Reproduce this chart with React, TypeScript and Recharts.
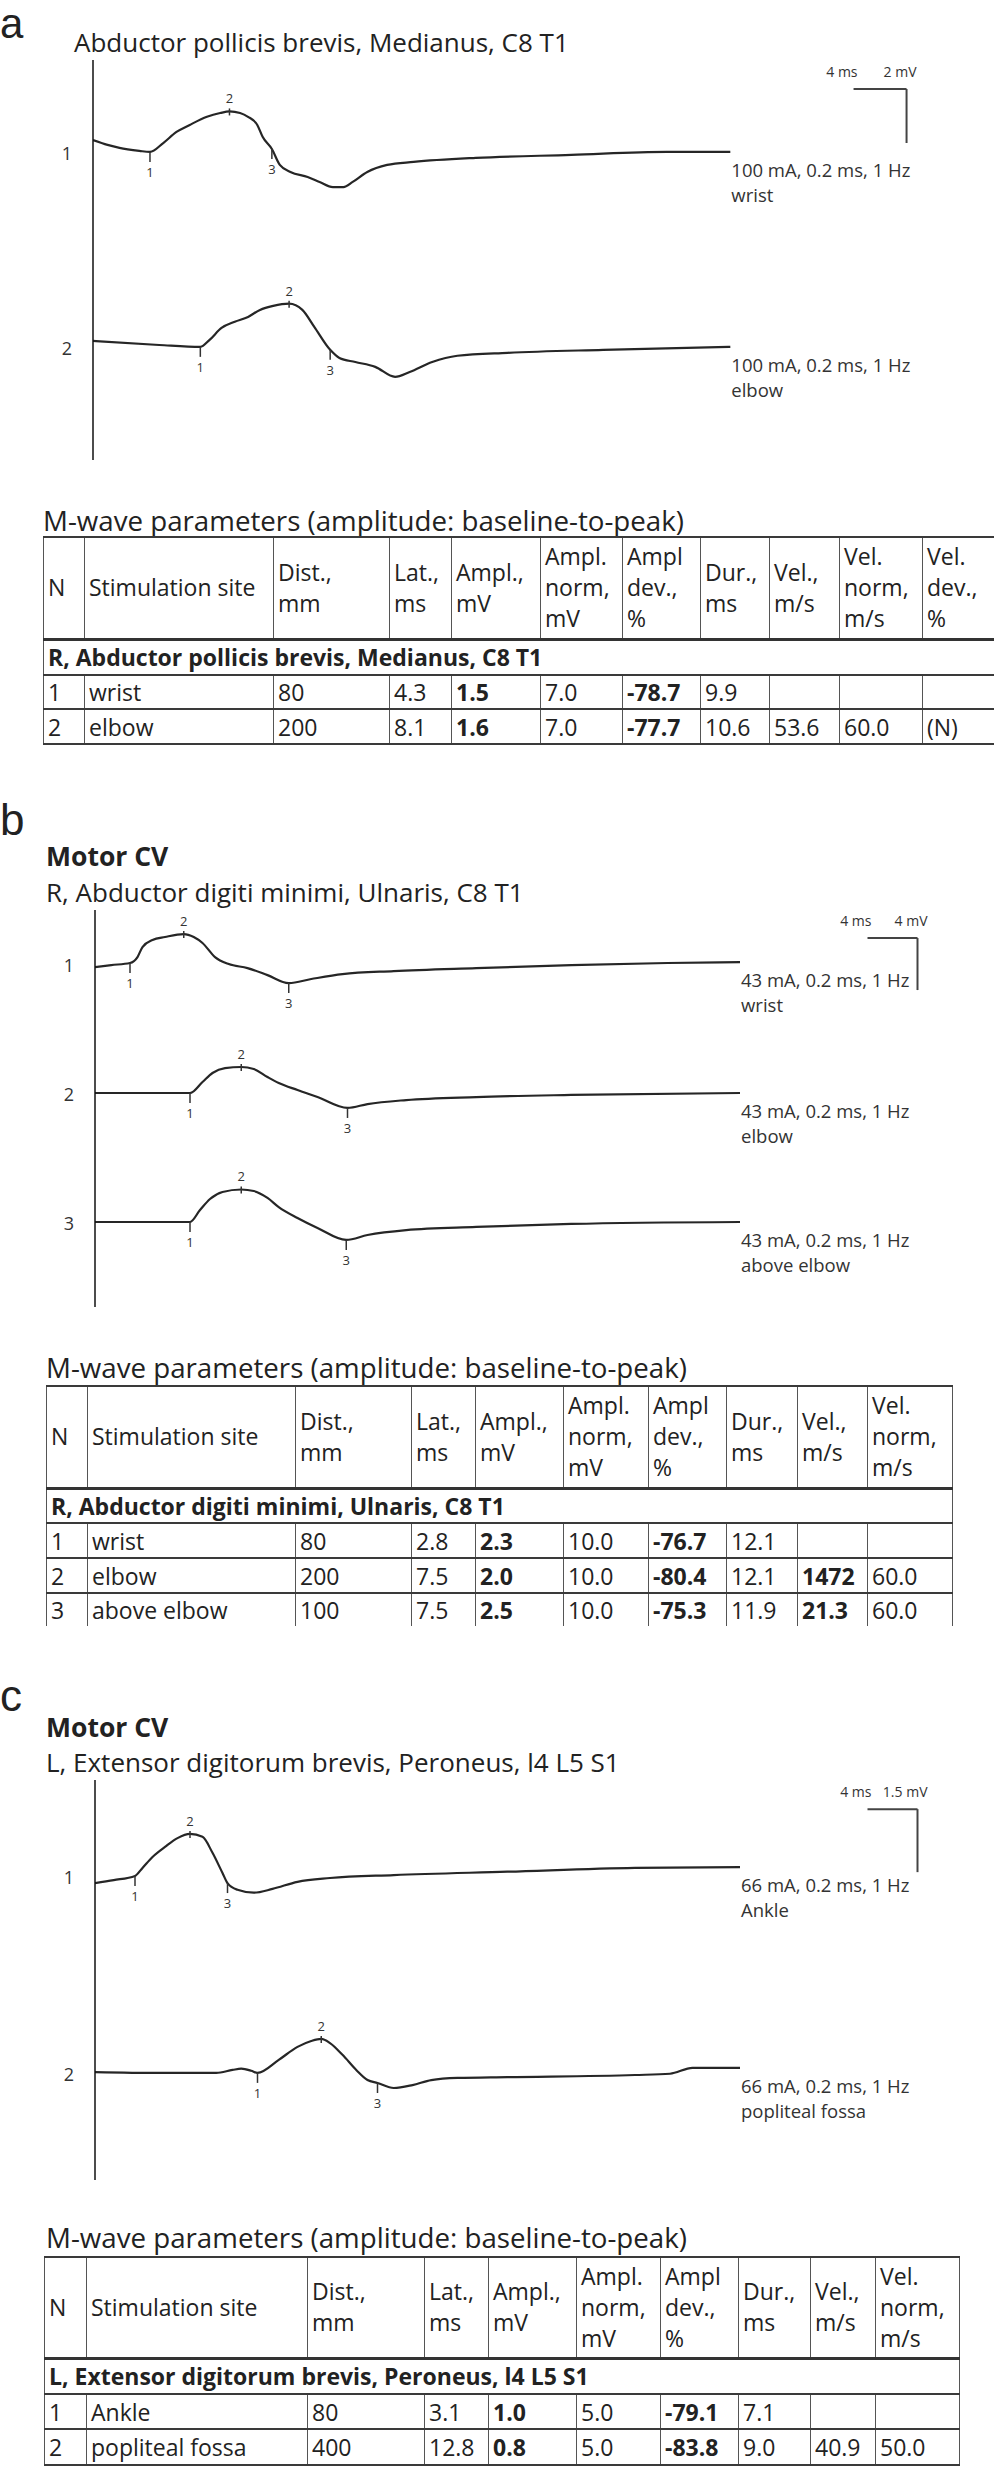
import React from 'react';
import { LineChart, Line, XAxis, YAxis, ReferenceLine, ReferenceDot } from 'recharts';

document.body.style.margin = '0';

const SANS = '"Open Sans", "Noto Sans", sans-serif';
const INK = '#222';

// ---- a: Abductor pollicis brevis, Medianus (4 ms / 2 mV)
const aWristMs = [0, 1.1, 2.0, 3.5, 4.3, 5.3, 6.3, 7.3, 8.6, 9.6, 10.3, 11.1, 11.7, 12.4, 12.8, 13.5, 14.1, 14.9, 16.2, 17.1, 18.1, 18.9, 19.6, 20.7, 22.2, 24.2, 28.9, 36.1, 43.3, 48.1];
const aWristMv = [0.44, 0.26, 0.15, 0.04, 0, 0.33, 0.74, 1.0, 1.3, 1.44, 1.5, 1.44, 1.3, 1.0, 0.56, 0.11, -0.48, -0.74, -0.93, -1.11, -1.3, -1.3, -1.11, -0.74, -0.48, -0.37, -0.22, -0.11, 0, 0];
const aWristMarks = [4.3, 10.3, 13.5];
const aElbowMs = [0, 5.0, 8.1, 8.8, 9.7, 10.7, 11.7, 12.6, 13.6, 14.8, 15.8, 16.7, 17.9, 18.6, 19.8, 21.3, 22.8, 23.9, 25.6, 27.5, 31.3, 38.5, 48.1];
const aElbowMv = [0.22, 0.07, 0, 0.26, 0.7, 0.93, 1.11, 1.37, 1.52, 1.6, 1.37, 0.74, -0.11, -0.41, -0.56, -0.74, -1.11, -0.93, -0.56, -0.33, -0.22, -0.11, 0];
const aElbowMarks = [8.1, 14.8, 17.9];

// ---- b: Abductor digiti minimi, Ulnaris (4 ms / 4 mV)
const bWristMs = [0, 1.3, 2.8, 3.4, 3.8, 4.6, 5.6, 7.1, 7.9, 8.6, 9.6, 10.7, 12.2, 13.8, 15.5, 17.3, 19.8, 23.9, 30.5, 38.1, 45.8, 51.6];
const bWristMv = [-0.23, -0.08, 0.08, 0.54, 1.31, 1.85, 2.08, 2.31, 2.08, 1.62, 0.54, 0, -0.31, -0.85, -1.46, -1.15, -0.77, -0.54, -0.31, -0.08, 0.08, 0.15];
const bWristMarks = [2.8, 7.1, 15.5];
const bElbowMs = [0, 7.6, 8.6, 9.4, 10.4, 11.7, 12.7, 13.8, 14.7, 16.2, 17.8, 20.2, 21.8, 24.9, 30.5, 38.1, 51.6];
const bElbowMv = [0, 0, 0.85, 1.54, 1.92, 2.0, 1.85, 1.23, 0.77, 0.23, -0.31, -1.15, -0.85, -0.54, -0.31, -0.15, 0];
const bElbowMarks = [7.6, 11.7, 20.2];
const bAboveMs = [0, 7.6, 8.4, 9.2, 10.2, 11.7, 12.7, 13.8, 14.7, 16.2, 17.8, 20.1, 21.8, 24.9, 30.5, 38.1, 51.6];
const bAboveMv = [0, 0, 0.92, 1.77, 2.31, 2.5, 2.38, 1.85, 1.15, 0.31, -0.46, -1.38, -1.0, -0.62, -0.38, -0.15, 0];
const bAboveMarks = [7.6, 11.7, 20.1];

// ---- c: Extensor digitorum brevis, Peroneus (4 ms / 1.5 mV)
const cAnkleMs = [0, 1.5, 3.2, 3.8, 4.6, 5.6, 6.6, 7.6, 8.6, 9.4, 10.2, 10.6, 11.4, 12.7, 14.2, 16.2, 18.8, 23.9, 33.0, 43.2, 51.6];
const cAnkleMv = [-0.17, -0.1, 0, 0.19, 0.45, 0.69, 0.9, 1.0, 0.93, 0.55, 0.07, -0.17, -0.33, -0.4, -0.31, -0.14, -0.05, 0.02, 0.1, 0.19, 0.21];
const cAnkleMarks = [3.2, 7.6, 10.6];
const cFossaMs = [0, 5.1, 9.7, 11.0, 11.7, 12.5, 13.0, 14.7, 16.2, 17.3, 18.1, 18.8, 19.8, 20.9, 21.8, 22.6, 23.9, 25.4, 26.9, 29.0, 33.0, 43.2, 46.0, 47.8, 51.6];
const cFossaMv = [0.02, 0, 0, 0.07, 0.1, 0.05, 0, 0.31, 0.62, 0.76, 0.81, 0.71, 0.43, 0.07, -0.17, -0.24, -0.36, -0.29, -0.17, -0.12, -0.1, -0.05, -0.02, 0.12, 0.12];
const cFossaMarks = [13.0, 18.1, 22.6];

// ---- tables
const headA = ['N', 'Stimulation site', 'Dist.,\nmm', 'Lat.,\nms', 'Ampl.,\nmV', 'Ampl.\nnorm,\nmV', 'Ampl\ndev.,\n%', 'Dur.,\nms', 'Vel.,\nm/s', 'Vel.\nnorm,\nm/s', 'Vel.\ndev.,\n%'];
const headBC = headA.slice(0, 10);
const rowsA = [
  ['1', 'wrist', '80', '4.3', '1.5', '7.0', '-78.7', '9.9', '', '', ''],
  ['2', 'elbow', '200', '8.1', '1.6', '7.0', '-77.7', '10.6', '53.6', '60.0', '(N)'],
];
const rowsB = [
  ['1', 'wrist', '80', '2.8', '2.3', '10.0', '-76.7', '12.1', '', ''],
  ['2', 'elbow', '200', '7.5', '2.0', '10.0', '-80.4', '12.1', '1472', '60.0'],
  ['3', 'above elbow', '100', '7.5', '2.5', '10.0', '-75.3', '11.9', '21.3', '60.0'],
];
const rowsC = [
  ['1', 'Ankle', '80', '3.1', '1.0', '5.0', '-79.1', '7.1', '', ''],
  ['2', 'popliteal fossa', '400', '12.8', '0.8', '5.0', '-83.8', '9.0', '40.9', '50.0'],
];

type Trace = { ms: number[]; mv: number[]; marks: number[]; offset: number; stim: string; site: string };
type Box = { left: number; top: number; width: number; height: number; axisW: number; pxPerMs: number; pxPerMv: number };
type Bar = { x0: number; ms: number; yTop: number; mv: number; msText: string; mvText: string };

const tickFont = { fontFamily: SANS, fill: '#333' };

function Traces({ box, traces, bar }: { box: Box; traces: Trace[]; bar: Bar }) {
  const xMax = (box.width - box.axisW) / box.pxPerMs;
  const yMax = box.height / box.pxPerMv;
  const offsets = traces.map((t) => t.offset);
  return (
    <div style={{ position: 'absolute', left: box.left, top: box.top }}>
      <LineChart width={box.width} height={box.height} margin={{ top: 0, right: 0, bottom: 0, left: 0 }} style={{ overflow: 'visible' }}>
        <XAxis type="number" dataKey="t" domain={[0, xMax]} allowDataOverflow hide />
        <YAxis
          type="number"
          domain={[0, yMax]}
          allowDataOverflow
          width={box.axisW}
          ticks={offsets}
          interval={0}
          tickSize={0}
          tickMargin={0}
          tickLine={false}
          axisLine={{ stroke: '#111', strokeWidth: 1.5 }}
          tick={(p: any) => (
            <text x={p.x - 26} y={p.y} dy={8} textAnchor="middle" fontSize={18} {...tickFont}>
              {offsets.indexOf(p.payload.value) + 1}
            </text>
          )}
        />
        {traces.map((tr, i) => (
          <Line
            key={'l' + i}
            data={tr.ms.map((t, j) => ({ t, v: tr.mv[j] + tr.offset }))}
            dataKey="v"
            type="monotone"
            stroke="#262626"
            strokeWidth={2.2}
            dot={false}
            activeDot={false}
            isAnimationActive={false}
          />
        ))}
        {traces.map((tr) =>
          tr.marks.map((m, k) => (
            <ReferenceDot
              key={'m' + tr.offset + k}
              x={m}
              y={tr.mv[tr.ms.indexOf(m)] + tr.offset}
              r={0}
              shape={(p: any) =>
                k === 1 ? (
                  <g>
                    <line x1={p.cx} x2={p.cx} y1={p.cy - 3} y2={p.cy + 4} stroke="#333" strokeWidth={1.5} />
                    <text x={p.cx} y={p.cy - 8} textAnchor="middle" fontSize={13} {...tickFont}>{k + 1}</text>
                  </g>
                ) : (
                  <g>
                    <line x1={p.cx} x2={p.cx} y1={p.cy} y2={p.cy + 10} stroke="#333" strokeWidth={1.5} />
                    <text x={p.cx} y={p.cy + 25} textAnchor="middle" fontSize={13} {...tickFont}>{k + 1}</text>
                  </g>
                )
              }
            />
          ))
        )}
        {traces.map((tr, i) => (
          <ReferenceDot
            key={'s' + i}
            x={tr.ms[tr.ms.length - 1]}
            y={tr.mv[tr.mv.length - 1] + tr.offset}
            r={0}
            shape={(p: any) => (
              <g fontSize={18.5} {...tickFont}>
                <text x={p.cx + 1} y={p.cy + 25}>{tr.stim}</text>
                <text x={p.cx + 1} y={p.cy + 50}>{tr.site}</text>
              </g>
            )}
          />
        ))}
        <ReferenceLine segment={[{ x: bar.x0, y: bar.yTop }, { x: bar.x0 + bar.ms, y: bar.yTop }]} stroke="#444" strokeWidth={2} />
        <ReferenceLine segment={[{ x: bar.x0 + bar.ms, y: bar.yTop }, { x: bar.x0 + bar.ms, y: bar.yTop - bar.mv }]} stroke="#444" strokeWidth={2} />
        <ReferenceDot x={bar.x0} y={bar.yTop} r={0} shape={(p: any) => (
          <text x={p.cx + 4} y={p.cy - 12} textAnchor="end" fontSize={14} {...tickFont}>{bar.msText}</text>
        )} />
        <ReferenceDot x={bar.x0 + bar.ms} y={bar.yTop} r={0} shape={(p: any) => (
          <text x={p.cx + 10} y={p.cy - 12} textAnchor="end" fontSize={14} {...tickFont}>{bar.mvText}</text>
        )} />
      </LineChart>
    </div>
  );
}

function ParamTable({ left, top, widths, heights, head, group, rows, bold, openBottom }: any) {
  const hLine = '2px solid #3a3a3a';
  const vLine = '1.5px solid #555';
  const total = widths.reduce((a: number, b: number) => a + b, 0);
  const cell = { borderLeft: vLine, borderRight: vLine, padding: '0 4px', verticalAlign: 'middle' as const, whiteSpace: 'nowrap' as const, overflow: 'hidden' };
  return (
    <table style={{ position: 'absolute', left, top, width: total, borderCollapse: 'collapse', tableLayout: 'fixed', fontFamily: SANS, fontSize: 23, color: INK }}>
      <colgroup>
        {widths.map((w: number, i: number) => <col key={i} style={{ width: w }} />)}
      </colgroup>
      <tbody>
        <tr style={{ height: heights[0] }}>
          {head.map((h: string, i: number) => (
            <td key={i} style={{ ...cell, borderTop: hLine, borderBottom: '3px solid #333', lineHeight: '31px' }}>
              {h.split('\n').map((s, j) => <div key={j}>{s}</div>)}
            </td>
          ))}
        </tr>
        <tr style={{ height: heights[1] }}>
          <td colSpan={head.length} style={{ ...cell, fontWeight: 700, borderBottom: hLine }}>{group}</td>
        </tr>
        {rows.map((r: string[], i: number) => (
          <tr key={i} style={{ height: heights[i + 2] }}>
            {r.map((v, j) => (
              <td key={j} style={{ ...cell, fontWeight: bold.includes(j) ? 700 : 400, borderBottom: openBottom && i === rows.length - 1 ? 'none' : hLine }}>{v}</td>
            ))}
          </tr>
        ))}
      </tbody>
    </table>
  );
}

function Txt({ x, y, size, bold, family, lh, children }: any) {
  return (
    <div style={{ position: 'absolute', left: x, top: y, fontSize: size, lineHeight: `${lh || Math.round(size * 1.36)}px`, fontWeight: bold ? 700 : 400, fontFamily: family || SANS, color: INK, whiteSpace: 'nowrap' }}>
      {children}
    </div>
  );
}

const boxA: Box = { left: 40, top: 60, width: 900, height: 400, axisW: 53, pxPerMs: 13.25, pxPerMv: 27 };
const boxB: Box = { left: 40, top: 910, width: 900, height: 397, axisW: 55, pxPerMs: 12.5, pxPerMv: 13 };
const boxC: Box = { left: 40, top: 1780, width: 900, height: 400, axisW: 55, pxPerMs: 12.5, pxPerMv: 42 };

const tracesA: Trace[] = [
  { ms: aWristMs, mv: aWristMv, marks: aWristMarks, offset: 11.41, stim: '100 mA, 0.2 ms, 1 Hz', site: 'wrist' },
  { ms: aElbowMs, mv: aElbowMv, marks: aElbowMarks, offset: 4.19, stim: '100 mA, 0.2 ms, 1 Hz', site: 'elbow' },
];
const tracesB: Trace[] = [
  { ms: bWristMs, mv: bWristMv, marks: bWristMarks, offset: 26.38, stim: '43 mA, 0.2 ms, 1 Hz', site: 'wrist' },
  { ms: bElbowMs, mv: bElbowMv, marks: bElbowMarks, offset: 16.46, stim: '43 mA, 0.2 ms, 1 Hz', site: 'elbow' },
  { ms: bAboveMs, mv: bAboveMv, marks: bAboveMarks, offset: 6.54, stim: '43 mA, 0.2 ms, 1 Hz', site: 'above elbow' },
];
const tracesC: Trace[] = [
  { ms: cAnkleMs, mv: cAnkleMv, marks: cAnkleMarks, offset: 7.24, stim: '66 mA, 0.2 ms, 1 Hz', site: 'Ankle' },
  { ms: cFossaMs, mv: cFossaMv, marks: cFossaMarks, offset: 2.55, stim: '66 mA, 0.2 ms, 1 Hz', site: 'popliteal fossa' },
];

const LETTER = "'Liberation Sans', Arial, sans-serif";

export default function App() {
  return (
    <div style={{ position: 'relative', width: 994, height: 2479, overflow: 'hidden', background: '#fff' }}>
      <Txt x={0} y={0} size={42} lh={47} family={LETTER}>a</Txt>
      <Txt x={74} y={25} size={26}>Abductor pollicis brevis, Medianus, C8 T1</Txt>
      <Traces box={boxA} traces={tracesA} bar={{ x0: 57.4, ms: 4, yTop: 13.74, mv: 2, msText: '4 ms', mvText: '2 mV' }} />
      <Txt x={43} y={501} size={27.7}>M-wave parameters (amplitude: baseline-to-peak)</Txt>
      <ParamTable left={43} top={536} widths={[41, 189, 116, 62, 89, 82, 78, 69, 70, 83, 88]} heights={[102, 36, 34, 35]}
        head={headA} group="R, Abductor pollicis brevis, Medianus, C8 T1" rows={rowsA} bold={[4, 6]} />

      <Txt x={0} y={790} size={44} family={LETTER}>b</Txt>
      <Txt x={46} y={838} size={26.5} bold>Motor CV</Txt>
      <Txt x={46} y={875} size={26}>R, Abductor digiti minimi, Ulnaris, C8 T1</Txt>
      <Traces box={boxB} traces={tracesB} bar={{ x0: 61.8, ms: 4, yTop: 28.38, mv: 4, msText: '4 ms', mvText: '4 mV' }} />
      <Txt x={46} y={1348} size={27.7}>M-wave parameters (amplitude: baseline-to-peak)</Txt>
      <ParamTable left={46} top={1385} widths={[41, 208, 116, 64, 88, 85, 78, 71, 70, 85]} heights={[102, 35, 35, 35, 33]}
        head={headBC} group="R, Abductor digiti minimi, Ulnaris, C8 T1" rows={rowsB} bold={[4, 6, 8]} openBottom />

      <Txt x={0} y={1666} size={44} family={LETTER}>c</Txt>
      <Txt x={46} y={1709} size={26.5} bold>Motor CV</Txt>
      <Txt x={46} y={1745} size={26}>L, Extensor digitorum brevis, Peroneus, l4 L5 S1</Txt>
      <Traces box={boxC} traces={tracesC} bar={{ x0: 61.8, ms: 4, yTop: 8.83, mv: 1.5, msText: '4 ms', mvText: '1.5 mV' }} />
      <Txt x={46} y={2218} size={27.7}>M-wave parameters (amplitude: baseline-to-peak)</Txt>
      <ParamTable left={44} top={2256} widths={[42, 221, 117, 64, 88, 84, 78, 72, 65, 84]} heights={[101, 36, 35, 36]}
        head={headBC} group="L, Extensor digitorum brevis, Peroneus, l4 L5 S1" rows={rowsC} bold={[4, 6]} />
    </div>
  );
}
